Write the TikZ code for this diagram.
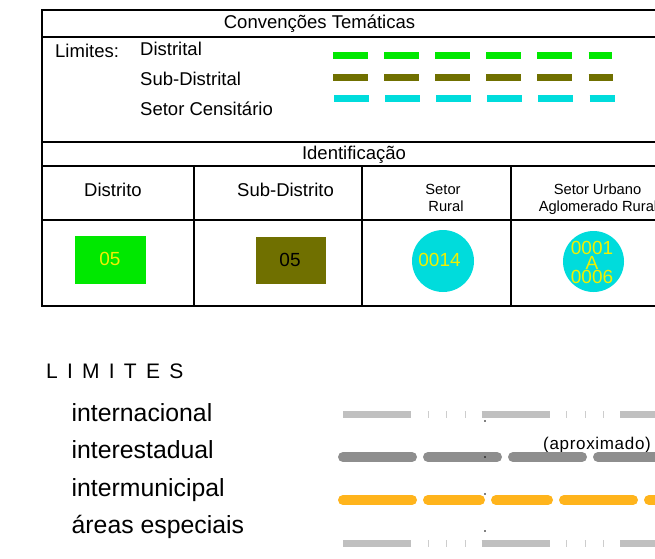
\documentclass[tikz,border=0pt]{standalone}
\usepackage{fontspec}
\setmainfont{Liberation Sans}
\definecolor{dgreen}{RGB}{0,232,0}
\definecolor{dolive}{RGB}{112,112,0}
\definecolor{dcyan}{RGB}{0,220,220}
\definecolor{dyel}{RGB}{240,240,0}
\definecolor{lgray}{RGB}{192,192,192}
\definecolor{mgray}{RGB}{142,142,142}
\definecolor{tgray}{RGB}{205,205,205}
\definecolor{dorange}{RGB}{255,180,28}
\newcommand{\fmain}{\fontsize{18.5}{20}\selectfont}
\newcommand{\fsmall}{\fontsize{14.7}{16}\selectfont}
\newcommand{\fnum}{\fontsize{19}{20}\selectfont}
\newcommand{\flist}{\fontsize{24.8}{26}\selectfont}
\newcommand{\fcaps}{\fontsize{21}{22}\selectfont\addfontfeature{LetterSpace=44}}
\newcommand{\fapx}{\fontsize{17}{18}\selectfont\addfontfeature{LetterSpace=4}}
\begin{document}
\begin{tikzpicture}[x=1pt,y=-1pt,
  tbl/.style={line width=1.8pt, black, line cap=rect},
  lbl/.style={inner sep=0pt, anchor=base, font=\fmain},
  lblw/.style={inner sep=0pt, anchor=base west, font=\fmain},
  sml/.style={inner sep=0pt, anchor=base, font=\fsmall},
  num/.style={inner sep=0pt, anchor=center, font=\fnum, text=dyel},
  lst/.style={inner sep=0pt, anchor=base west, font=\flist},
  legdash/.style={line width=7pt, dash pattern=on 34.5pt off 16.6pt},
  rdash/.style={line width=10pt, line cap=round},
  bar/.style={line width=7pt, lgray, dash pattern=on 68pt off 70.5pt},
  ticks/.style={line width=7pt, tgray, dash pattern=on 1pt off 17.5pt on 1pt off 17.5pt on 1pt off 100.5pt},
  dotm/.style={circle, fill=black, inner sep=0pt, minimum size=1.6pt}
]
\useasboundingbox (0,0) rectangle (655,558);
\clip (0,0) rectangle (655,558);

% ---- table frame ----
\draw[tbl] (42,10) -- (670,10);
\draw[tbl] (42,37) -- (670,37);
\draw[tbl] (42,142) -- (670,142);
\draw[tbl] (42,166) -- (670,166);
\draw[tbl] (42,220) -- (670,220);
\draw[tbl] (42,306) -- (670,306);
\draw[tbl] (42,10) -- (42,306);
\draw[tbl] (194,166) -- (194,306);
\draw[tbl] (362,166) -- (362,306);
\draw[tbl] (511,166) -- (511,306);

% ---- header texts ----
\node[lbl] (hdr) at (319.5,28) {Convenções Temáticas};
\node[lblw] (limites) at (55,57) {Limites:};
\node[lblw] (distrital) at (140,55) {Distrital};
\node[lblw] (subdistrital) at (140,85) {Sub-Distrital};
\node[lblw] (setorcens) at (140,115) {Setor Censitário};

% ---- legend dashes ----
\draw[legdash, dgreen] (333,55) -- (612,55);
\draw[legdash, dolive] (333,77) -- (613,77);
\draw[legdash, dcyan] (334,98) -- (615,98);

% ---- identificacao ----
\node[lbl] (ident) at (354,159.5) {Identificação};
\node[lbl] (distrito) at (113,196) {Distrito};
\node[lbl] (subdistrito) at (285.5,196) {Sub-Distrito};
\node[sml] (setor) at (443,194) {Setor};
\node[sml] (rural) at (446,211) {Rural};
\node[sml] (surb) at (597.5,194) {Setor Urbano};
\node[sml] (aglom) at (598,211) {Aglomerado Rural};

% ---- symbols ----
\node[fill=dgreen, inner sep=0pt, minimum width=70.7pt, minimum height=48pt] (gbox) at (110.3,260) {};
\node[num] (gtxt) at (110,259) {05};
\node[fill=dolive, inner sep=0pt, minimum width=70pt, minimum height=47.5pt] (obox) at (290.6,260.3) {};
\node[num, text=black] (otxt) at (290,260) {05};
\node[circle, fill=dcyan, inner sep=0pt, minimum size=62pt] (c1) at (443,261) {};
\node[num] (c1txt) at (439.5,260) {0014};
\node[circle, fill=dcyan, inner sep=0pt, minimum size=61pt] (c2) at (593.5,261.5) {};
\node[num] (c2a) at (592,248) {0001};
\node[num] (c2b) at (592,263) {A};
\node[num] (c2c) at (592,277) {0006};

% ---- LIMITES ----
\node[inner sep=0pt, anchor=base west, font=\fcaps] (limtitle) at (46,378) {LIMITES};
\node[lst] (inter) at (71.5,421) {internacional};
\node[lst] (estad) at (71.5,458.5) {interestadual};
\node[lst] (munic) at (71.5,496) {intermunicipal};
\node[lst] (espec) at (71.5,533.5) {áreas especiais};
\node[inner sep=0pt, anchor=base west, font=\fapx] (apx) at (543,449) {(aproximado)};

% line samples
\coordinate (l1a) at (343,414.5); \coordinate (l1b) at (700,414.5);
\coordinate (t1a) at (427.5,414.5); \coordinate (t1b) at (700,414.5);
\draw[bar] (l1a) -- (l1b);
\draw[ticks] (t1a) -- (t1b);

\coordinate (l2a) at (343,457); \coordinate (l2b) at (700,457);
\draw[rdash, mgray, dash pattern=on 69pt off 16pt] (l2a) -- (l2b);

\coordinate (l3a) at (343,500); \coordinate (l3b) at (700,500);
\draw[rdash, dorange, dash pattern=on 69pt off 16pt on 52pt off 16pt on 52pt off 16pt] (l3a) -- (l3b);

\coordinate (l4a) at (343,543); \coordinate (l4b) at (700,543);
\coordinate (t4a) at (427.5,543); \coordinate (t4b) at (700,543);
\draw[bar] (l4a) -- (l4b);
\draw[ticks] (t4a) -- (t4b);

% tiny dots
\node[dotm] (d1) at (485,421) {};
\node[dotm] (d2) at (485,457) {};
\node[dotm] (d3) at (485,494) {};
\node[dotm] (d4) at (485,531) {};
\end{tikzpicture}
\end{document}
